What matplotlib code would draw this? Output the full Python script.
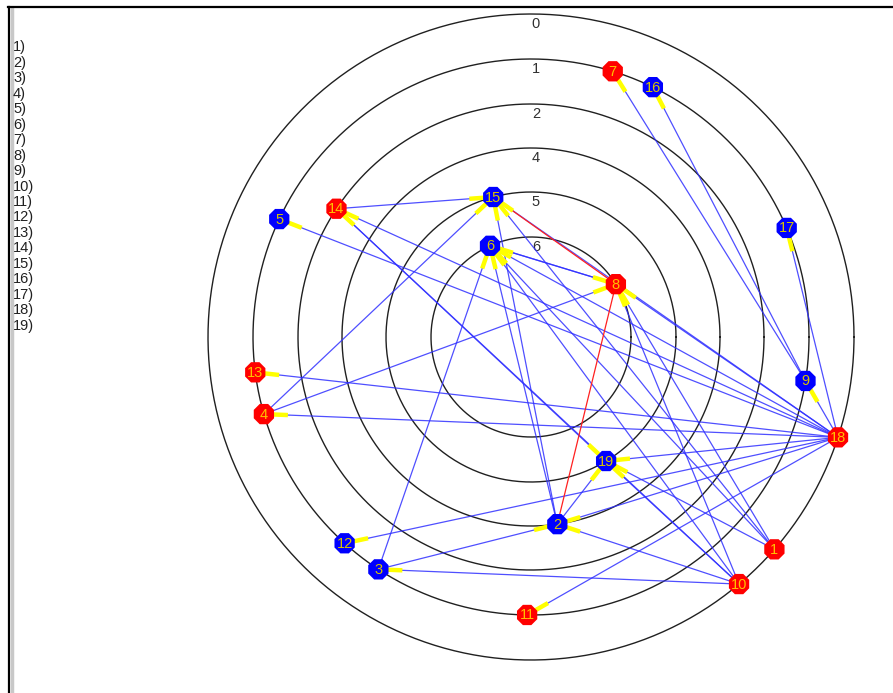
import numpy as np
import matplotlib.pyplot as plt
from matplotlib.lines import Line2D

# nodes: in-degree level and angle (deg) on the ring
node_ids = list(range(1, 20))
node_level = [0, 4, 1, 1, 1, 6, 1, 6, 1, 0, 1, 1, 1, 2, 5, 1, 1, 0, 5]
node_angle = [-41.1, -82.0, -123.3, -163.9, 154.9, 114.2, 72.9, 31.9, -9.1, -49.9,
              -90.8, -132.1, -172.7, 146.6, 105.1, 64.0, 23.1, -18.1, -58.8]
node_group = ['r', 'b', 'b', 'r', 'b', 'b', 'r', 'r', 'b', 'r',
              'r', 'b', 'r', 'r', 'b', 'b', 'b', 'r', 'b']

# ring levels shown (outer -> inner)
levels = [0, 1, 2, 4, 5, 6]

# directed ties (source -> target)
edge_src = [18, 18, 18, 18, 18, 18, 18, 18, 18, 18, 18, 18, 18,
            9, 9,
            10, 10, 10, 10, 10, 10,
            1, 1, 1, 1,
            3, 3,
            2, 2, 2,
            4, 4,
            14, 14,
            8, 6]
edge_dst = [9, 17, 13, 4, 12, 11, 19, 2, 8, 6, 15, 5, 14,
            7, 16,
            3, 2, 8, 6, 19, 14,
            8, 6, 19, 15,
            6, 2,
            6, 15, 19,
            15, 8,
            15, 19,
            6, 8]
# highlighted ties drawn in red
red_src = [15, 8]
red_dst = [8, 2]

CX, CY = 531, 337
ring_r = np.array([323, 278, 233, 189, 145, 100])
NODE_R = 11
HEAD = 13

fig = plt.figure(figsize=(8.93, 6.93), dpi=100)
ax = fig.add_axes([0, 0, 1, 1])
ax.set_xlim(-CX, 893 - CX)
ax.set_ylim(-(693 - CY), CY)
ax.axis('off')

# frame
fig.add_artist(Line2D([8.5 / 893, 8.5 / 893], [0, 1 - 7 / 693], color='black', lw=1.6))
fig.add_artist(Line2D([12 / 893, 12 / 893], [0, 1 - 9 / 693], color='#c8c8c8', lw=2.5))
fig.add_artist(Line2D([8 / 893, 1], [1 - 7 / 693, 1 - 7 / 693], color='black', lw=1.6))

# node index list on the left
for i, n in enumerate(node_ids):
    fig.text(13 / 893, 1 - (47.5 + i * 15.45) / 693, f"{n})", fontsize=10.5,
             family=['Liberation Sans Narrow', 'Liberation Sans'], color='#202020',
             va='center', ha='left')

# rings with their level label at the top
t = np.linspace(0, 2 * np.pi, 400)
for r, lv in zip(ring_r, levels):
    ax.plot(r * np.cos(t), r * np.sin(t), color='#202020', lw=1.0, zorder=1)
    ax.text(5, r - 10, str(lv), ha='center', va='center', fontsize=10.5,
            family='Liberation Sans', color='#303030', zorder=2)

pos = {}
for n, lv, a in zip(node_ids, node_level, node_angle):
    r = ring_r[levels.index(lv)]
    pos[n] = np.array([r * np.cos(np.radians(a)), r * np.sin(np.radians(a))])

for s, d in zip(edge_src, edge_dst):
    p0, p1 = pos[s], pos[d]
    ax.plot([p0[0], p1[0]], [p0[1], p1[1]], color='#3030ff', lw=0.9, alpha=0.85, zorder=3)
for s, d in zip(red_src, red_dst):
    p0, p1 = pos[s], pos[d]
    ax.plot([p0[0], p1[0]], [p0[1], p1[1]], color='#ff2020', lw=0.9, zorder=3)

# arrow heads as short yellow strokes at the target end
for s, d in zip(edge_src, edge_dst):
    p0, p1 = pos[s], pos[d]
    u = (p0 - p1) / np.linalg.norm(p0 - p1)
    a = p1 + u * (NODE_R - 3)
    b = p1 + u * (NODE_R + HEAD)
    ax.plot([a[0], b[0]], [a[1], b[1]], color='#ffff00', lw=3.2,
            solid_capstyle='butt', zorder=4)

for n, g in zip(node_ids, node_group):
    x, y = pos[n]
    ax.scatter([x], [y], s=250, marker='8', color='#ff0000' if g == 'r' else '#0000ff',
               edgecolors='none', zorder=5)
    ax.text(x, y - 0.5, str(n), ha='center', va='center', fontsize=10.5,
            family='Liberation Sans',
            color='#ffc000' if g == 'r' else '#d8c400', zorder=6)

fig.savefig('out.png', dpi=100)
